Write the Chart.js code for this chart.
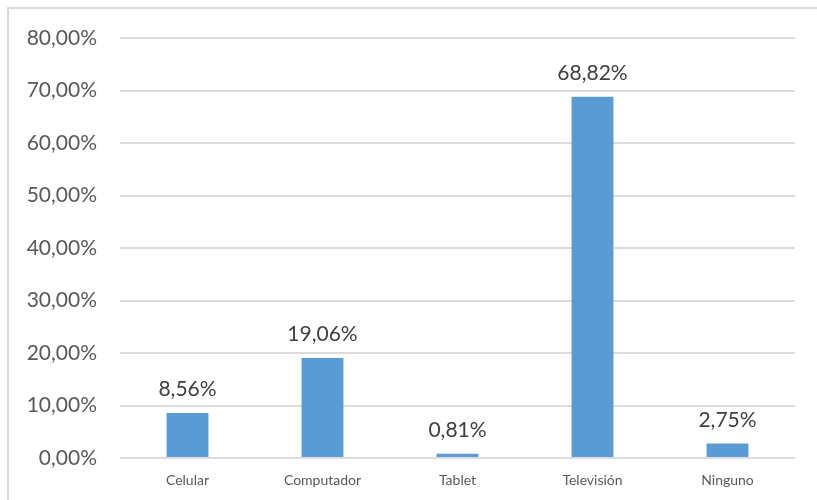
<!DOCTYPE html>
<html>
<head>
<meta charset="utf-8">
<script src="https://cdn.jsdelivr.net/npm/chart.js@4"></script>
<style>
  html, body { margin: 0; padding: 0; background: #fff; overflow: hidden; }
  #wrap { position: relative; width: 817px; height: 500px; overflow: hidden; }
  #frame { position: absolute; left: 7px; top: 7px; width: 820px; height: 510px; border: 2px solid #d9d9d9; box-sizing: border-box; pointer-events: none; }
  canvas { position: absolute; left: 0; top: 0; }
</style>
</head>
<body>
<div id="wrap">
  <canvas id="c" width="817" height="500"></canvas>
  <div id="frame"></div>
</div>
<script>
const categories = ["Celular", "Computador", "Tablet", "Televisión", "Ninguno"];
const values = [8.56, 19.06, 0.81, 68.82, 2.75];
const yTicks = [0, 10, 20, 30, 40, 50, 60, 70, 80];

const fmt = v => v.toFixed(2).replace('.', ',') + '%';

const labelPlugin = {
  id: 'barLabels',
  afterDatasetsDraw(chart) {
    const ctx = chart.ctx;
    const meta = chart.getDatasetMeta(0);
    ctx.save();
    ctx.font = '21px Lato';
    ctx.fillStyle = '#404040';
    ctx.textAlign = 'center';
    ctx.textBaseline = 'alphabetic';
    meta.data.forEach((bar, i) => {
      ctx.fillText(fmt(values[i]), bar.x, bar.y - 17);
    });
    ctx.restore();
  }
};

new Chart(document.getElementById('c'), {
  type: 'bar',
  data: {
    labels: categories,
    datasets: [{
      data: values,
      backgroundColor: '#5B9BD5',
      borderWidth: 0,
      barPercentage: 0.31,
      categoryPercentage: 1.0
    }]
  },
  options: {
    responsive: false,
    animation: false,
    events: [],
    layout: { padding: { top: 38, right: 22, left: 0, bottom: 0 } },
    plugins: { legend: { display: false }, tooltip: { enabled: false } },
    scales: {
      x: {
        grid: { display: false, drawTicks: false },
        border: { display: false },
        ticks: { font: { family: 'Lato', size: 14 }, color: '#595959', padding: 14 },
        afterFit(s) { s.height = 42; }
      },
      y: {
        min: 0, max: 80,
        afterBuildTicks(s) { s.ticks = yTicks.map(v => ({ value: v })); },
        grid: { color: '#dcdcdc', lineWidth: 2, drawTicks: false },
        border: { display: false },
        ticks: { font: { family: 'Lato', size: 21 }, color: '#595959', padding: 23, callback: v => fmt(v) },
        afterFit(s) { s.width = 120; }
      }
    }
  },
  plugins: [labelPlugin]
});
</script>
</body>
</html>
